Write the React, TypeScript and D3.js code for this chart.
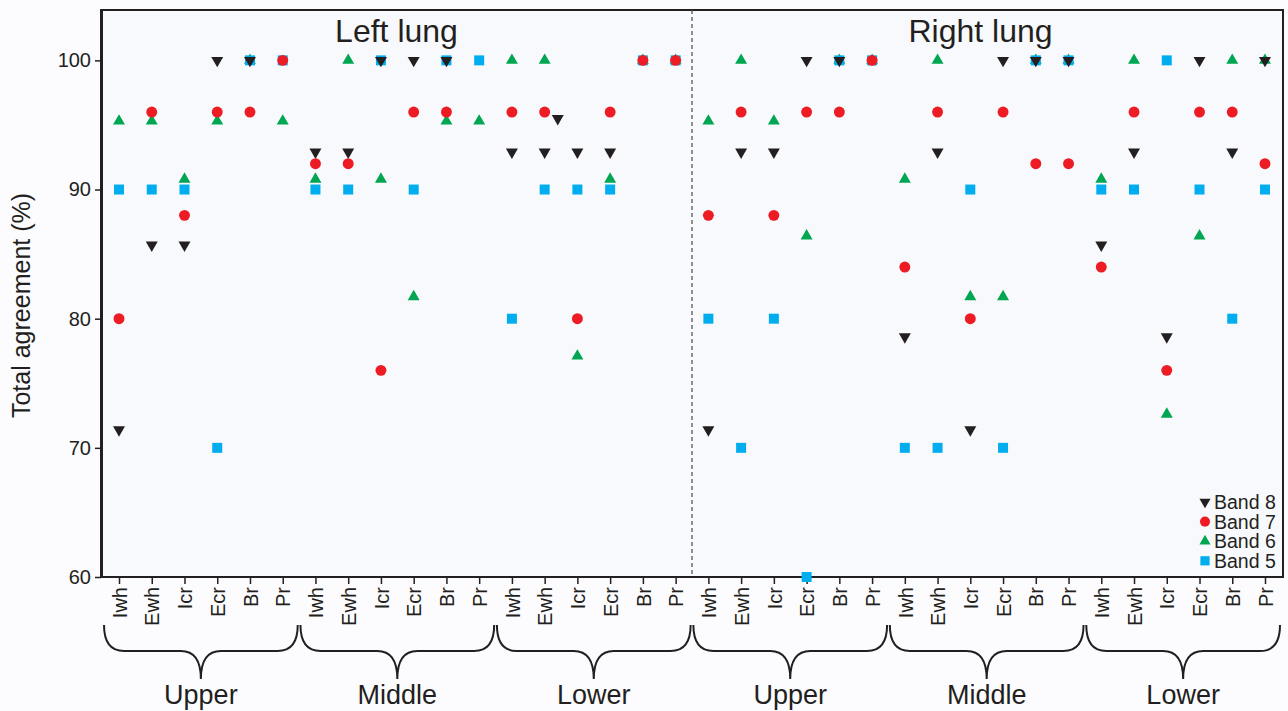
import * as d3 from "d3";
import { useEffect, useRef } from "react";

// categories
const lungs = ["Left lung", "Right lung"];
const zones = ["Upper", "Middle", "Lower"];
const sites = ["Iwh", "Ewh", "Icr", "Ecr", "Br", "Pr"];
const yTicks = [60, 70, 80, 90, 100];

// values per site, left lung Upper/Middle/Lower then right lung Upper/Middle/Lower
const band8 = [
  71.4, 85.7, 85.7, 100, 100, null,
  92.9, 92.9, 100, 100, 100, null,
  92.9, 92.9, 92.9, 92.9, null, null,
  71.4, 92.9, 92.9, 100, 100, null,
  78.6, 92.9, 71.4, 100, 100, 100,
  85.7, 92.9, 78.6, 100, 92.9, 100,
];
const band7 = [
  80, 96, 88, 96, 96, 100,
  92, 92, 76, 96, 96, null,
  96, 96, 80, 96, 100, 100,
  88, 96, 88, 96, 96, 100,
  84, 96, 80, 96, 92, 92,
  84, 96, 76, 96, 96, 92,
];
const band6 = [
  95.3, 95.3, 90.8, 95.3, 100, 95.3,
  90.8, 100, 90.8, 81.7, 95.3, 95.3,
  100, 100, 77.1, 90.8, 100, 100,
  95.3, 100, 95.3, 86.4, 100, 100,
  90.8, 100, 81.7, 81.7, 100, 100,
  90.8, 100, 72.6, 86.4, 100, 100,
];
const band5 = [
  90, 90, 90, 70, 100, 100,
  90, 90, 100, 90, 100, 100,
  80, 90, 90, 90, 100, 100,
  80, 70, 80, 60, 100, 100,
  70, 70, 90, 70, 100, 100,
  90, 90, 100, 90, 80, 90,
];
// a stray Band 8 marker drawn between Ewh and Icr (left lung, lower)
const band8Stray = [{ at: 13.4, value: 95.5 }];

const W = 1288;
const H = 711;
const ink = "#231f20";
const font = "'Liberation Sans', Arial, sans-serif";

export default function App() {
  const svgRef = useRef<SVGSVGElement>(null);

  useEffect(() => {
    const svg = d3.select(svgRef.current);
    svg.selectAll("*").remove();

    const left = 101, right = 1283, top = 10, bottom = 577;
    const idx = d3.range(lungs.length * zones.length * sites.length);

    const x = d3.scalePoint<number>().domain(idx).range([left, right]).padding(0.55);
    const xAt = d3.scaleLinear().domain([0, idx.length - 1]).range([x(0)!, x(idx.length - 1)!]);
    const y = d3.scaleLinear().domain([60, 103.9]).range([bottom, top]);

    svg.append("rect").attr("width", W).attr("height", H).attr("fill", "#fcfcfe");
    svg
      .append("rect")
      .attr("x", left)
      .attr("y", top)
      .attr("width", right - left)
      .attr("height", bottom - top)
      .attr("fill", "#f8f9fc")
      .attr("stroke", ink)
      .attr("stroke-width", 2);

    // divider between lungs
    const mid = (x(17)! + x(18)!) / 2;
    svg
      .append("line")
      .attr("x1", mid)
      .attr("x2", mid)
      .attr("y1", top)
      .attr("y2", bottom)
      .attr("stroke", "#555")
      .attr("stroke-width", 1.3)
      .attr("stroke-dasharray", "4 3");

    // y axis
    const yAxis = d3
      .axisLeft(y)
      .tickValues(yTicks)
      .tickSize(6)
      .tickSizeOuter(0)
      .tickPadding(4)
      .tickFormat(d3.format("d"));
    svg
      .append("g")
      .attr("transform", `translate(${left},0)`)
      .call(yAxis)
      .attr("font-family", font)
      .attr("font-size", 20)
      .attr("color", ink)
      .call((g) => g.select(".domain").attr("stroke-width", 3))
      .call((g) => g.selectAll(".tick line").attr("stroke-width", 1.5));

    // x axis
    const xAxis = d3
      .axisBottom(x)
      .tickSize(7)
      .tickSizeOuter(0)
      .tickFormat((i) => sites[(i as number) % sites.length]);
    svg
      .append("g")
      .attr("transform", `translate(0,${bottom})`)
      .call(xAxis)
      .attr("font-family", font)
      .attr("font-size", 20)
      .attr("color", ink)
      .call((g) => g.select(".domain").remove())
      .call((g) => g.selectAll(".tick line").attr("stroke-width", 1.5))
      .selectAll("text")
      .attr("transform", "rotate(-90)")
      .attr("text-anchor", "end")
      .attr("x", -10)
      .attr("y", 0)
      .attr("dy", "0.36em");

    // titles
    svg
      .selectAll(".lung")
      .data(lungs)
      .join("text")
      .attr("x", (d, i) => (i === 0 ? (left + mid) / 2 : (mid + right) / 2 - 7))
      .attr("y", 42)
      .attr("text-anchor", "middle")
      .attr("font-family", font)
      .attr("font-size", 32)
      .attr("fill", ink)
      .text((d) => d);

    svg
      .append("text")
      .attr("transform", `translate(30,${(top + bottom) / 2 + 12}) rotate(-90)`)
      .attr("text-anchor", "middle")
      .attr("font-family", font)
      .attr("font-size", 25)
      .attr("fill", ink)
      .text("Total agreement (%)");

    // braces and zone labels
    const groups = d3.range(lungs.length * zones.length);
    const braceTop = 625, braceMid = 651, braceTip = 679, r = 20;
    groups.forEach((g) => {
      const x1 = x(g * 6)! - 15;
      const x2 = x(g * 6 + 5)! + 15;
      const cx = (x1 + x2) / 2;
      const p = d3.path();
      p.moveTo(x1, braceTop);
      p.quadraticCurveTo(x1, braceMid, x1 + r, braceMid);
      p.lineTo(cx - r, braceMid);
      p.quadraticCurveTo(cx, braceMid, cx, braceTip);
      p.quadraticCurveTo(cx, braceMid, cx + r, braceMid);
      p.lineTo(x2 - r, braceMid);
      p.quadraticCurveTo(x2, braceMid, x2, braceTop);
      svg
        .append("path")
        .attr("d", p.toString())
        .attr("fill", "none")
        .attr("stroke", ink)
        .attr("stroke-width", 2);
      svg
        .append("text")
        .attr("x", cx)
        .attr("y", 704)
        .attr("text-anchor", "middle")
        .attr("font-family", font)
        .attr("font-size", 27)
        .attr("fill", ink)
        .text(zones[g % zones.length]);
    });

    // series, drawn bottom to top
    const series = [
      { name: "Band 6", values: band6, color: "#00a651", shape: d3.symbolTriangle, size: 62, flip: false },
      { name: "Band 5", values: band5, color: "#00aeef", shape: d3.symbolSquare, size: 100, flip: false },
      { name: "Band 8", values: band8, color: ink, shape: d3.symbolTriangle, size: 62, flip: true },
      { name: "Band 7", values: band7, color: "#ed1c24", shape: d3.symbolCircle, size: 94, flip: false },
    ];

    series.forEach((s) => {
      const pts = s.values
        .map((v, i) => ({ at: i, value: v }))
        .filter((d) => d.value != null) as { at: number; value: number }[];
      if (s.name === "Band 8") pts.push(...band8Stray);
      svg
        .append("g")
        .selectAll("path")
        .data(pts)
        .join("path")
        .attr("transform", (d) => `translate(${xAt(d.at)},${y(d.value)})${s.flip ? " rotate(180)" : ""}`)
        .attr("d", d3.symbol(s.shape, s.size)())
        .attr("fill", s.color);
    });

    // legend
    const legendOrder = ["Band 8", "Band 7", "Band 6", "Band 5"];
    const legend = svg.append("g").attr("transform", "translate(1205,502)");
    legendOrder.forEach((name, i) => {
      const s = series.find((d) => d.name === name)!;
      const row = legend.append("g").attr("transform", `translate(0,${i * 19.6})`);
      row
        .append("path")
        .attr("transform", s.flip ? "rotate(180)" : null)
        .attr("d", d3.symbol(s.shape, s.size * 0.85)())
        .attr("fill", s.color);
      row
        .append("text")
        .attr("x", 9)
        .attr("dy", "0.36em")
        .attr("font-family", font)
        .attr("font-size", 19.5)
        .attr("fill", ink)
        .text(name);
    });
  }, []);

  return (
    <svg
      ref={svgRef}
      width={W}
      height={H}
      style={{ position: "absolute", left: 0, top: 0, display: "block" }}
    />
  );
}
